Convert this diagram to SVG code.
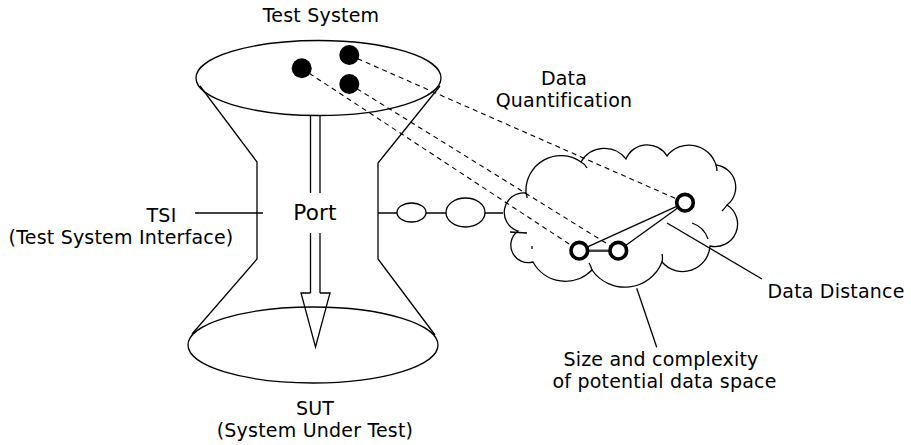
<svg xmlns="http://www.w3.org/2000/svg" width="911" height="445" viewBox="0 0 911 445">
<style>
.s{fill:none;stroke:#000;stroke-width:1.3}
.w{fill:#fff;stroke:#000;stroke-width:1.3}
.d{fill:none;stroke:#000;stroke-width:1.1;stroke-dasharray:5 4}
.t{font-family:"DejaVu Sans","Verdana",sans-serif;font-size:19px;letter-spacing:0.2px;fill:#000;text-anchor:middle}
.hc{fill:#fff;stroke:#000;stroke-width:3.6}
</style>
<rect width="911" height="445" fill="#fff"/>
<g id="sut">
<ellipse class="s" cx="313" cy="345" rx="125" ry="38"/>
<text class="t" x="315" y="415">SUT</text>
<text class="t" x="315" y="437">(System Under Test)</text>
</g>
<g id="tsi">
<polyline class="s" points="200,86 257,162 257,259 192,334"/>
<polyline class="s" points="440,86 378,163 378,259 435,335"/>
<text class="t" x="161.5" y="222">TSI</text>
<text class="t" x="121" y="244">(Test System Interface)</text>
</g>
<g id="test-system">
<ellipse class="s" cx="318.5" cy="78" rx="122.5" ry="37.5"/>
<text class="t" x="321" y="22">Test System</text>
</g>
<g id="port">
<path class="s" d="M310.5,116 V193 M320,116 V193 M310.5,233 V293 M320,233 V293"/>
<path class="s" d="M310.5,293 H301 L315.5,347 L330,293 H320"/>
<text class="t" x="315" y="220" style="font-size:21.5px">Port</text>
</g>
<g id="data-space">
<path class="s" d="M533,262 A17.5,17.5 0 0 1 518,231 A19.5,19.5 0 0 1 526,193 A35,35 0 0 1 581,162 A27,27 0 0 1 626,159 A23,23 0 0 1 667,156 A28,28 0 0 1 716,165 A22.4,22.4 0 0 1 727,205 A22.5,22.5 0 0 1 710,246 A27.3,27.3 0 0 1 662,262 A40,40 0 0 1 592,270 A37,37 0 0 1 533,262 Z"/>
<path class="s" d="M526,193 q1,3 1,5 M510,232 l17,1 M581,162 q4,2 6,6 M716,165 q1,3 1,6 M727,205 q-2,3 -5,6 M692,223 q12,4 16,16 M662,262 q1,-4 0,-8 M592,270 q-1,-4 -3,-7 M532,246 l0,3"/>
<text class="t" x="661" y="366">Size and complexity</text>
<text class="t" x="664.5" y="388">of potential data space</text>
</g>
<g id="connectors">
<line class="s" x1="195" y1="213" x2="263" y2="213"/>
<line class="s" x1="378" y1="213" x2="503" y2="213"/>
<ellipse class="w" cx="411.5" cy="212.5" rx="14.5" ry="9.5"/>
<ellipse class="w" cx="465.5" cy="212.5" rx="19.5" ry="14.5"/>
<line class="d" x1="301.7" y1="68.3" x2="579.3" y2="250.7"/>
<line class="d" x1="349.3" y1="84" x2="618.3" y2="250.7"/>
<line class="d" x1="349.3" y1="55" x2="685" y2="202.7"/>
<line x1="579.3" y1="250.7" x2="618.3" y2="250.7" stroke="#444" stroke-width="2.4"/>
<line class="s" x1="579.3" y1="250.7" x2="685" y2="202.7"/>
<line class="s" x1="618.3" y1="250.7" x2="685" y2="202.7"/>
<line class="s" x1="667" y1="223" x2="762" y2="279"/>
<line class="s" x1="636.7" y1="288.3" x2="656.7" y2="347.3"/>
<text class="t" x="564" y="85">Data</text>
<text class="t" x="564" y="107">Quantification</text>
<text class="t" x="836" y="298">Data Distance</text>
</g>
<g id="data-points">
<circle cx="301.7" cy="68.3" r="10"/>
<circle cx="349.3" cy="55" r="10"/>
<circle cx="349.3" cy="84" r="10"/>
<circle class="hc" cx="579.3" cy="250.7" r="8.3"/>
<circle class="hc" cx="618.3" cy="250.7" r="8.3"/>
<circle class="hc" cx="685" cy="202.7" r="8.3"/>
</g>
</svg>
